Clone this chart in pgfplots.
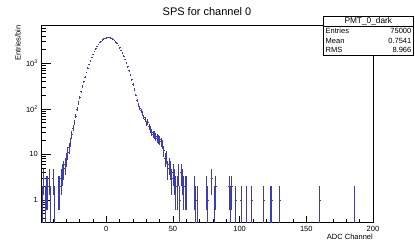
\documentclass[border=0pt]{standalone}
\usepackage{pgfplots}
\pgfplotsset{compat=1.18}
\usepackage{pgfplotstable}
\usepackage{fontspec}
\setmainfont{Liberation Sans}
\definecolor{histblue}{RGB}{60,60,185}
\pgfplotstableread{
x y
-48 1
-47 3
-46 1
-45 2
-44 2
-43 3
-42 1
-40 3
-39 1
-36 2
-35 2
-34 3
-33 4
-32 5
-31 6
-30 8
-29 11
-28 14
-27 19
-26 27
-25 38
-24 51
-23 70
-22 99
-21 134
-20 180
-19 238
-18 311
-17 400
-16 507
-15 636
-14 787
-13 960
-12 1156
-11 1372
-10 1608
-9 1858
-8 2118
-7 2382
-6 2643
-5 2892
-4 3124
-3 3329
-2 3499
-1 3629
0 3714
1 3749
2 3734
3 3669
4 3556
5 3401
6 3210
7 2988
8 2745
9 2487
10 2223
11 1962
12 1707
13 1465
14 1240
15 1035
16 853
17 694
18 557
19 441
20 344
21 265
22 203
23 155
24 122
25 104
26 92
27 80
28 67
29 59
30 48
31 52
32 41
33 36
34 31
35 28
36 27
37 25
38 23
39 22
40 21
41 19
42 17
43 12
44 8
45 9
46 5
47 6
48 5
49 3
50 4
51 3
52 2
53 2
54 4
55 1
56 4
57 3
58 2
59 2
60 2
66 2
67 1
68 1
75 2
76 1
79 3
81 1
82 2
92 2
93 1
94 2
97 1
101 1
105 1
109 1
118 1
123 1
124 1
130 1
160 1
186 1
}\histdata
\begin{document}
\begin{tikzpicture}[x=1bp,y=1bp]
\useasboundingbox (0,0) rectangle (415,248);
\begin{axis}[
  scale only axis, width=331.7bp, height=197.3bp,
  at={(41.3bp,25.7bp)}, anchor=south west,
  ymode=log, xmin=-48.7, xmax=200, ymin=0.32, ymax=7000,
  xtick={0,50,100,150,200}, minor xtick={-40,-30,-20,-10,10,20,30,40,60,70,80,90,110,120,130,140,160,170,180,190},
  ytick={1,10,100,1000}, yticklabels={1,10,10\textsuperscript{2},10\textsuperscript{3}},
  minor ytick={0.4,0.5,0.6,0.7,0.8,0.9,2,3,4,5,6,7,8,9,20,30,40,50,60,70,80,90,200,300,400,500,600,700,800,900,2000,3000,4000,5000,6000,7000},
  tick pos=left, tick align=inside,
  xtick style={black, line width=0.5bp, /pgfplots/major tick length=6bp, /pgfplots/minor tick length=3bp},
  ytick style={black, line width=0.5bp, /pgfplots/major tick length=10bp, /pgfplots/minor tick length=5bp},
  axis line style={black, line width=0.6bp},
  ticklabel style={font=\fontsize{7.5bp}{9bp}\selectfont},
  /pgf/number format/assume math mode=true,
  scaled x ticks=false,
]
\addplot[histblue, draw=none, mark=none,
  error bars/.cd, x dir=both, x fixed=0.5, y dir=both, y explicit, error mark=none,
  error bar style={histblue, line width=0.55bp}]
  table[x=x, y=y, y error plus expr={sqrt(\thisrow{y})}, y error minus expr={min(sqrt(\thisrow{y}),\thisrow{y}-0.001)}] {\histdata};
\end{axis}
\node[font=\fontsize{11bp}{13bp}\selectfont, anchor=base] at (207,233) {SPS for channel 0};
\node[font=\fontsize{7.5bp}{9bp}\selectfont, anchor=base east, inner sep=0pt] at (373,8.5) {ADC Channel};
\node[font=\fontsize{7.5bp}{9bp}\selectfont, rotate=90, anchor=south east, inner sep=0pt] at (21,223) {Entries/bin};
\draw[black, line width=0.6bp, fill=white] (323,232) rectangle (413.7,192.4);
\draw[black, line width=0.5bp] (323,222.1) -- (413.7,222.1);
\begin{scope}[every node/.style={font=\fontsize{7.5bp}{9bp}\selectfont, inner sep=0pt}]
\node[anchor=base, font=\fontsize{8.3bp}{9bp}\selectfont] at (368.3,224.6) {PMT\_0\_dark};
\node[anchor=base west] at (325.5,215) {Entries};
\node[anchor=base east] at (411.5,215) {75000};
\node[anchor=base west] at (325.5,205) {Mean};
\node[anchor=base east] at (411.5,205) {0.7541};
\node[anchor=base west] at (325.5,195.2) {RMS};
\node[anchor=base east] at (411.5,195.2) {8.966};
\end{scope}
\end{tikzpicture}
\end{document}
